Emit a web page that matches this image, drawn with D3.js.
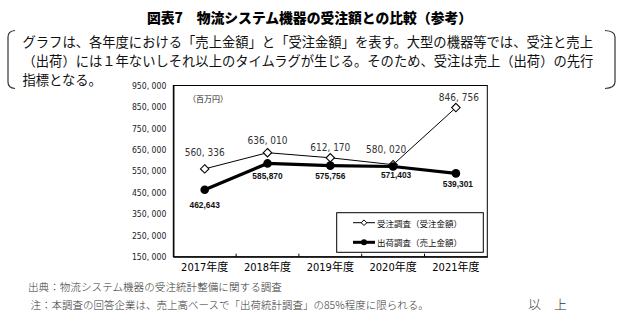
<!DOCTYPE html>
<html><head><meta charset="utf-8">
<script src="https://cdn.jsdelivr.net/npm/d3@7"></script>
<style>
body{margin:0;background:#fff;}
svg{display:block;}
</style></head>
<body>
<script>
// ---- data ----
const categories = ["2017年度", "2018年度", "2019年度", "2020年度", "2021年度"];
const orderValues = [560336, 636010, 612170, 580020, 846756];      // 受注調査（受注金額）
const shipmentValues = [462643, 585870, 575756, 571403, 539301];   // 出荷調査（売上金額）
const yTickValues = [150000, 250000, 350000, 450000, 550000, 650000, 750000, 850000, 950000];
const seriesNames = ["受注調査（受注金額）", "出荷調査（売上金額）"];
const titleText = "図表7　物流システム機器の受注額との比較（参考）";
const introLines = [
  "グラフは、各年度における「売上金額」と「受注金額」を表す。大型の機器等では、受注と売上",
  "（出荷）には１年ないしそれ以上のタイムラグが生じる。そのため、受注は売上（出荷）の先行",
  "指標となる。"
];
const unitText = "（百万円）";
const sourceText = "出典：物流システム機器の受注統計整備に関する調査";
const noteText = "注：本調査の回答企業は、売上高ベースで「出荷統計調査」の85%程度に限られる。";
const endText = "以　上";

// label nudges (layout only)
const orderLabelNudge = [[0,-16],[0,-12],[0,-10],[-7,-15],[3,-10.5]];
const shipLabelNudge = [[0,15.5],[0,12.5],[0,10.5],[3,8.5],[2,11]];

const W = 640, H = 321;
const CJK = "'Noto Sans CJK JP', sans-serif";
const NARROW = "'Liberation Sans Narrow', 'DejaVu Sans Condensed', 'Liberation Sans', sans-serif";

const svg = d3.select("body").append("svg").attr("width", W).attr("height", H);

// title
svg.append("text").attr("x", 309.5).attr("y", 17).attr("text-anchor", "middle")
  .attr("dominant-baseline", "central").style("font-family", CJK).style("font-weight", "900")
  .style("font-size", "13.8px").attr("fill", "#000").text(titleText);

// brackets
const br = svg.append("g").attr("fill", "none").attr("stroke", "#333").attr("stroke-width", 1.2);
br.append("path").attr("d", "M15,30.5 Q8,31 8,37 L8,82 Q8,88 15,88.5");
br.append("path").attr("d", "M605,30.5 Q615,31 615,37 L615,82 Q615,88 605,88.5");

// intro text
const introY = [41, 60.5, 79];
introLines.forEach((t, i) => {
  svg.append("text").attr("x", 22.5).attr("y", introY[i]).attr("dominant-baseline", "central")
    .style("font-family", CJK).style("font-size", "13.3px").attr("fill", "#111").text(t);
});

// chart
const plot = {l: 173.3, r: 487.3, t: 85.5, b: 256.7};
const x = d3.scaleBand().domain(categories).range([plot.l, plot.r]);
const y = d3.scaleLinear().domain([150000, 950000]).range([plot.b, plot.t]);
const cx = d => x(d) + x.bandwidth() / 2;

svg.append("rect").attr("x", plot.l).attr("y", plot.t).attr("width", plot.r - plot.l)
  .attr("height", plot.b - plot.t).attr("fill", "#fff").attr("stroke", "#000").attr("stroke-width", 1);

// y axis labels
const fmt = v => d3.format(",")(v).replace(/,/g, ", ");
const yAxis = d3.axisLeft(y).tickValues(yTickValues).tickFormat(fmt).tickSize(0).tickPadding(7);
const ya = svg.append("g").attr("transform", `translate(${plot.l},0)`).call(yAxis);
ya.select(".domain").attr("stroke", "#000").attr("stroke-width", 1.3);
ya.selectAll("text").style("font-family", NARROW).style("font-size", "8.6px").attr("fill", "#222");

// x axis
const xAxis = d3.axisBottom(x).tickSize(0).tickPadding(8);
const xa = svg.append("g").attr("transform", `translate(0,${plot.b})`).call(xAxis);
xa.select(".domain").attr("stroke", "#000").attr("stroke-width", 1.3);
xa.selectAll("text").style("font-family", NARROW + ", " + CJK).style("font-size", "11px")
  .attr("fill", "#000").attr("dy", "0.6em");
// boundary ticks (inside, pointing up)
svg.append("g").selectAll("line").data(categories.slice(1)).join("line")
  .attr("x1", d => x(d)).attr("x2", d => x(d)).attr("y1", plot.b).attr("y2", plot.b - 3)
  .attr("stroke", "#000").attr("stroke-width", 1);

// unit
svg.append("text").attr("x", 188).attr("y", 98).attr("dominant-baseline", "central")
  .style("font-family", CJK).style("font-size", "8px").attr("fill", "#222").text(unitText);

const orderPts = categories.map((c, i) => [cx(c), y(orderValues[i])]);
const shipPts = categories.map((c, i) => [cx(c), y(shipmentValues[i])]);
const line = d3.line();

svg.append("path").attr("d", line(orderPts)).attr("fill", "none").attr("stroke", "#000").attr("stroke-width", 1);
svg.append("path").attr("d", line(shipPts)).attr("fill", "none").attr("stroke", "#000").attr("stroke-width", 3.2);

const diamond = (s) => `M0,${-s} L${s},0 L0,${s} L${-s},0 Z`;
svg.append("g").selectAll("path").data(orderPts).join("path")
  .attr("transform", d => `translate(${d[0]},${d[1]})`).attr("d", diamond(4.2))
  .attr("fill", "#fff").attr("stroke", "#000").attr("stroke-width", 1.1);
svg.append("g").selectAll("circle").data(shipPts).join("circle")
  .attr("cx", d => d[0]).attr("cy", d => d[1]).attr("r", 4.3).attr("fill", "#000");

// data labels
svg.append("g").selectAll("text").data(orderValues).join("text")
  .attr("x", (d, i) => orderPts[i][0] + orderLabelNudge[i][0])
  .attr("y", (d, i) => orderPts[i][1] + orderLabelNudge[i][1])
  .attr("text-anchor", "middle").attr("dominant-baseline", "central")
  .style("font-family", NARROW).style("font-size", "10px").attr("fill", "#333").text(d => fmt(d));
svg.append("g").selectAll("text").data(shipmentValues).join("text")
  .attr("x", (d, i) => shipPts[i][0] + shipLabelNudge[i][0])
  .attr("y", (d, i) => shipPts[i][1] + shipLabelNudge[i][1])
  .attr("text-anchor", "middle").attr("dominant-baseline", "central")
  .style("font-family", "'Liberation Sans', sans-serif").style("font-weight", "bold")
  .style("font-size", "8.4px").attr("fill", "#111").text(d => d3.format(",")(d));

// legend
const lg = svg.append("g");
lg.append("rect").attr("x", 336.7).attr("y", 212.7).attr("width", 146.6).attr("height", 39.6)
  .attr("fill", "#fff").attr("stroke", "#000").attr("stroke-width", 1);
const legY = [222.7, 242.3];
lg.append("line").attr("x1", 353).attr("x2", 375).attr("y1", legY[0]).attr("y2", legY[0]).attr("stroke", "#000").attr("stroke-width", 1);
lg.append("path").attr("transform", `translate(364,${legY[0]})`).attr("d", diamond(2.8))
  .attr("fill", "#fff").attr("stroke", "#000").attr("stroke-width", 1);
lg.append("line").attr("x1", 353).attr("x2", 375).attr("y1", legY[1]).attr("y2", legY[1]).attr("stroke", "#000").attr("stroke-width", 3);
lg.append("circle").attr("cx", 364).attr("cy", legY[1]).attr("r", 3).attr("fill", "#000");
seriesNames.forEach((n, i) => {
  lg.append("text").attr("x", 377).attr("y", legY[i]).attr("dominant-baseline", "central")
    .style("font-family", CJK).style("font-size", "8.5px").attr("fill", "#111").text(n);
});

// footnotes
svg.append("text").attr("x", 28).attr("y", 286.7).attr("dominant-baseline", "central")
  .style("font-family", CJK).style("font-size", "10.6px").style("font-weight", "300").attr("fill", "#333").text(sourceText);
svg.append("text").attr("x", 30.5).attr("y", 304.3).attr("dominant-baseline", "central")
  .style("font-family", CJK).style("font-size", "10.5px").style("font-weight", "300").attr("fill", "#333").text(noteText);
svg.append("text").attr("x", 528).attr("y", 303).attr("dominant-baseline", "central")
  .style("font-family", CJK).style("font-size", "13px").style("font-weight", "300").attr("fill", "#333").text(endText);
</script>
</body></html>
